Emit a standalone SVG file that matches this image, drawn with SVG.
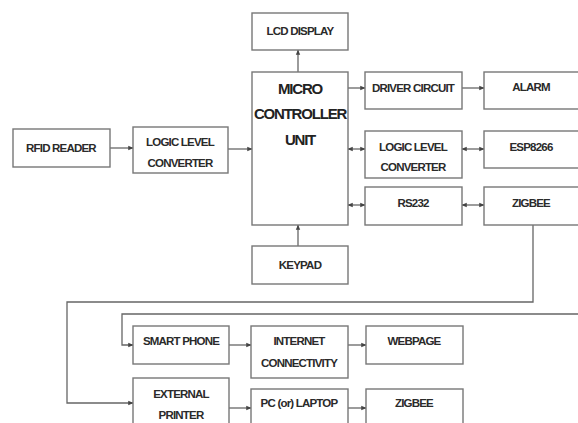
<svg xmlns="http://www.w3.org/2000/svg" width="578" height="423" viewBox="0 0 578 423">
<defs>
<marker id="ah" viewBox="0 0 6 6" refX="5.5" refY="3" markerWidth="4" markerHeight="4" orient="auto-start-reverse"><path d="M0,0.5 L6,3 L0,5.5 z" fill="#444"/></marker>
<style>
.box{fill:#fff;stroke:#777;stroke-width:1.4}
.t{font-family:"Liberation Sans",Arial,sans-serif;font-weight:bold;font-size:11.5px;fill:#2a2a2a;text-anchor:middle;letter-spacing:-0.8px}
.big{font-size:15px;letter-spacing:-1.2px;fill:#222}
.c{fill:none;stroke:#666;stroke-width:1.3}
.a{marker-end:url(#ah)}
.b{marker-start:url(#ah);marker-end:url(#ah)}
</style>
</defs>
<rect width="578" height="423" fill="#fff"/>
<g id="connectors">
<line class="c a" x1="110" y1="148" x2="133" y2="148"/>
<line class="c a" x1="228" y1="149" x2="252" y2="149"/>
<line class="c a" x1="298" y1="72" x2="298" y2="50"/>
<line class="c a" x1="298" y1="246" x2="298" y2="225"/>
<line class="c a" x1="348" y1="88" x2="365" y2="88"/>
<line class="c a" x1="462" y1="88" x2="484" y2="88"/>
<line class="c b" x1="348" y1="149" x2="365" y2="149"/>
<line class="c b" x1="462" y1="149" x2="484" y2="149"/>
<line class="c b" x1="348" y1="205" x2="365" y2="205"/>
<line class="c b" x1="462" y1="205" x2="484" y2="205"/>
<polyline class="c a" points="533,225 533,302 67,302 67,403 133,403"/>
<polyline class="c a" points="578,314 122,314 122,345 133,345"/>
<line class="c a" x1="229" y1="345" x2="251" y2="345"/>
<line class="c a" x1="348" y1="345" x2="366" y2="345"/>
<line class="c a" x1="229" y1="408" x2="251" y2="408"/>
<line class="c a" x1="348" y1="408" x2="366" y2="408"/>
</g>
<g id="rfid"><rect class="box" x="13" y="129" width="97" height="38"/><text class="t" x="61" y="152">RFID READER</text></g>
<g id="llc1"><rect class="box" x="133" y="127" width="95" height="46"/><text class="t" x="180" y="146">LOGIC LEVEL</text><text class="t" x="180" y="167">CONVERTER</text></g>
<g id="lcd"><rect class="box" x="252" y="13" width="96" height="37"/><text class="t" x="300" y="35">LCD DISPLAY</text></g>
<g id="mcu"><rect class="box" x="252" y="72" width="96" height="153"/><text class="t big" x="300" y="94">MICRO</text><text class="t big" x="300" y="119">CONTROLLER</text><text class="t big" x="300" y="145">UNIT</text></g>
<g id="keypad"><rect class="box" x="252" y="246" width="96" height="38"/><text class="t" x="300" y="269">KEYPAD</text></g>
<g id="driver"><rect class="box" x="365" y="72" width="97" height="37"/><text class="t" x="413" y="92">DRIVER CIRCUIT</text></g>
<g id="alarm"><rect class="box" x="484" y="72" width="100" height="37"/><text class="t" x="531" y="91">ALARM</text></g>
<g id="llc2"><rect class="box" x="365" y="131" width="97" height="47"/><text class="t" x="413" y="151">LOGIC LEVEL</text><text class="t" x="413" y="171">CONVERTER</text></g>
<g id="esp"><rect class="box" x="484" y="131" width="100" height="37"/><text class="t" x="531" y="151">ESP8266</text></g>
<g id="rs232"><rect class="box" x="365" y="187" width="97" height="38"/><text class="t" x="413" y="207">RS232</text></g>
<g id="zigbee1"><rect class="box" x="484" y="187" width="100" height="38"/><text class="t" x="531" y="207">ZIGBEE</text></g>
<g id="smartphone"><rect class="box" x="133" y="326" width="96" height="38"/><text class="t" x="181" y="345">SMART PHONE</text></g>
<g id="internet"><rect class="box" x="251" y="326" width="97" height="52"/><text class="t" x="299" y="345">INTERNET</text><text class="t" x="299" y="367">CONNECTIVITY</text></g>
<g id="webpage"><rect class="box" x="366" y="326" width="97" height="38"/><text class="t" x="414" y="345">WEBPAGE</text></g>
<g id="printer"><rect class="box" x="133" y="378" width="96" height="50"/><text class="t" x="181" y="398">EXTERNAL</text><text class="t" x="181" y="419">PRINTER</text></g>
<g id="pc"><rect class="box" x="251" y="389" width="97" height="40"/><text class="t" x="299" y="407">PC (or) LAPTOP</text></g>
<g id="zigbee2"><rect class="box" x="366" y="389" width="97" height="40"/><text class="t" x="414" y="407">ZIGBEE</text></g>
</svg>
